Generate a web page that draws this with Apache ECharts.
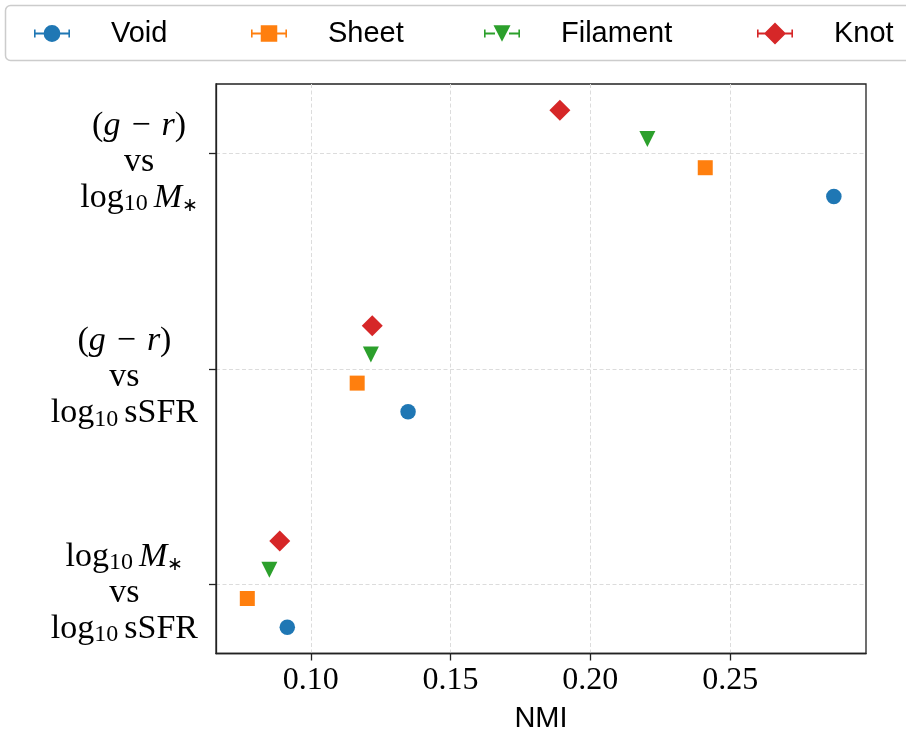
<!DOCTYPE html>
<html><head><meta charset="utf-8">
<script src="https://cdn.jsdelivr.net/npm/echarts@6/dist/echarts.min.js"></script>
<style>html,body{margin:0;padding:0;background:#fff}#c{width:906px;height:731px}</style>
</head><body><div id="c"></div>
<script>
// Categories (bottom to top, y positions 0,1,2)
const categories = ['log10 M* vs log10 sSFR', '(g - r) vs log10 sSFR', '(g - r) vs log10 M*'];
const categoryLabels = [
  '{n|log}{s|10 }{i|M}{a|∗}\n{n|vs}\n{n|log}{s|10 }{n|sSFR}',
  '{n|(}{i|g}{m|−}{i|r}{n|)}\n{n|vs}\n{n|log}{s|10 }{n|sSFR}',
  '{n|(}{i|g}{m|−}{i|r}{n|)}\n{n|vs}\n{n|log}{s|10 }{i|M}{a|∗}'
];
const seriesNames = ['Void', 'Sheet', 'Filament', 'Knot'];
const voidNMI     = [0.0916, 0.1348, 0.2871];
const sheetNMI    = [0.0773, 0.1166, 0.2411];
const filamentNMI = [0.0852, 0.1215, 0.2204];
const knotNMI     = [0.0889, 0.1220, 0.1891];
const dodge = [-0.2, -0.0667, 0.0667, 0.2];
const xTicks = [0.10, 0.15, 0.20, 0.25];
const yTicks = [0, 1, 2];

const colors = ['#1f77b4', '#ff7f0e', '#2ca02c', '#d62728'];
const values = [voidNMI, sheetNMI, filamentNMI, knotNMI];

const capL = 'M0,8 L1.6,8 L1.6,11.1 L11,11.1 L11,12.9 L1.6,12.9 L1.6,16 L0,16 Z ';
const capR = 'M36,8 L36,16 L34.4,16 L34.4,12.9 L25,12.9 L25,11.1 L34.4,11.1 L34.4,8 Z ';
const icons = [
  'path://' + capL + capR + 'M18,3.6 A8.4,8.4 0 1,1 18,20.4 A8.4,8.4 0 1,1 18,3.6 Z',
  'path://' + capL + capR + 'M9.75,3.75 L26.25,3.75 L26.25,20.25 L9.75,20.25 Z',
  'path://' + capL + capR + 'M9.5,3.75 L26.5,3.75 L18,20.25 Z',
  'path://' + capL + capR + 'M18,1 L29,12 L18,23 L7,12 Z'
];
const symbols = ['circle', 'rect', 'triangle', 'diamond'];
const symbolSizes = [15.5, 15, 16, 21];
const symbolRotates = [0, 0, 180, 0];
const legendLefts = [34, 251, 484, 757];

const chart = echarts.init(document.getElementById('c'), null, {renderer: 'canvas'});

const serifFont = 'Liberation Serif';
const sansFont = 'Liberation Sans';

const series = seriesNames.map((name, k) => ({
  type: 'scatter',
  name: name,
  data: yTicks.map((p, i) => [values[k][i], p + dodge[k]]),
  symbol: symbols[k],
  symbolSize: symbolSizes[k],
  symbolRotate: symbolRotates[k],
  itemStyle: {color: colors[k], opacity: 1},
  emphasis: {disabled: true},
  z: 5
}));

const legends = seriesNames.map((name, k) => ({
  data: [{name: name, icon: icons[k]}],
  left: legendLefts[k],
  top: 19,
  padding: 0,
  itemWidth: 36,
  itemHeight: 24,
  selectedMode: false,
  formatter: '{g| }{t|{name}}',
  textStyle: {
    color: '#000',
    rich: {
      g: {width: 36, fontSize: 10},
      t: {fontFamily: sansFont, fontSize: 29, lineHeight: 24, color: '#000'}
    }
  }
}));

const axisColor = '#222';
const LS = 36;

chart.setOption({
  animation: false,
  backgroundColor: '#fff',
  graphic: [{
    type: 'rect',
    shape: {x: 5.5, y: 5.5, width: 960, height: 55, r: 5},
    style: {fill: '#fff', stroke: '#cccccc', lineWidth: 1.5},
    z: -1
  }],
  legend: legends,
  grid: {left: 216, right: 40, top: 84, bottom: 77.5, show: true, borderColor: axisColor, borderWidth: 1.3,
    backgroundColor: 'transparent', outerBoundsMode: 'none', containLabel: false},
  xAxis: {
    type: 'value',
    min: 0.0661,
    max: 0.2986,
    name: 'NMI',
    nameLocation: 'middle',
    nameGap: 50,
    nameTextStyle: {fontFamily: sansFont, fontSize: 29, color: '#000', lineHeight: 30},
    axisLine: {show: true, onZero: false, lineStyle: {color: axisColor, width: 1.3}},
    axisTick: {show: true, inside: false, length: 7, customValues: xTicks, lineStyle: {color: axisColor, width: 1.3}},
    axisLabel: {customValues: xTicks, margin: 11.5, fontFamily: serifFont, fontSize: 32, lineHeight: 32, color: '#000',
      formatter: v => v.toFixed(2)},
    splitLine: {show: true, lineStyle: {color: '#dcdcdc', width: 1, type: [4, 2.5]}}
  },
  yAxis: {
    type: 'value',
    min: -0.322,
    max: 2.322,
    axisLine: {show: true, onZero: false, lineStyle: {color: axisColor, width: 1.3}},
    axisTick: {show: true, inside: false, length: 7, customValues: yTicks, lineStyle: {color: axisColor, width: 1.3}},
    axisLabel: {
      customValues: yTicks,
      margin: 18,
      padding: [17, 0, 0, 0],
      formatter: v => categoryLabels[Math.round(v)],
      rich: {
        n: {fontFamily: serifFont, fontSize: 34, lineHeight: LS, color: '#000', align: 'center'},
        m: {fontFamily: serifFont, fontSize: 34, lineHeight: LS, color: '#000', align: 'center', padding: [0, 11, 0, 11]},
        i: {fontFamily: serifFont, fontSize: 34, lineHeight: LS, color: '#000', align: 'center', fontStyle: 'italic'},
        s: {fontFamily: serifFont, fontSize: 24, lineHeight: 12, color: '#000', align: 'center', verticalAlign: 'bottom'},
        a: {fontFamily: serifFont, fontSize: 19, lineHeight: 14, color: '#000', align: 'center', verticalAlign: 'bottom'}
      }
    },
    splitLine: {show: true, lineStyle: {color: '#dcdcdc', width: 1, type: [4, 2.5]}}
  },
  series: series
});
</script>
</body></html>
